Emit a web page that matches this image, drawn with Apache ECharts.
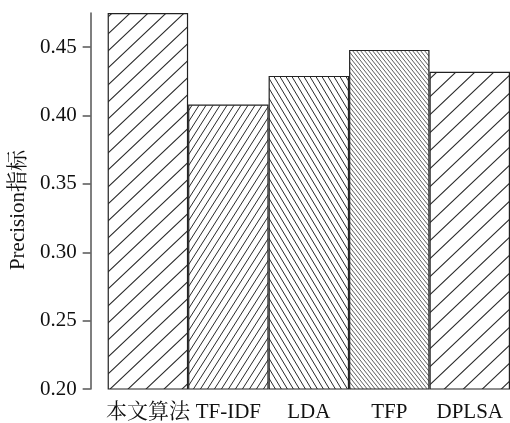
<!DOCTYPE html>
<html>
<head>
<meta charset="utf-8">
<script src="https://cdn.jsdelivr.net/npm/echarts@6/dist/echarts.min.js"></script>
<style>html,body{margin:0;padding:0;background:#fff}#c{width:510px;height:423px}</style>
</head>
<body>
<div id="c"></div>
<script>
var categories = ['本文算法', 'TF-IDF', 'LDA', 'TFP', 'DPLSA'];
var precision = [0.475, 0.408, 0.429, 0.448, 0.432];
var yTicks = [0.20, 0.25, 0.30, 0.35, 0.40, 0.45];
var yMin = 0.20, yMax = 0.475;

// hatch styles: [direction, tileW, tileH, lineWidth]
var hatchSpecs = [['/', 18, 17, 1.1], ['/', 7, 11, 1.0], ['\\', 6, 10, 1.0], ['\\', 4, 5, 0.75], ['/', 19, 18, 1.1]];

function makeHatch(dir, w, h, lw) {
  var cv = document.createElement('canvas');
  cv.width = w; cv.height = h;
  var ctx = cv.getContext('2d');
  ctx.fillStyle = '#fff';
  ctx.fillRect(0, 0, w, h);
  ctx.strokeStyle = '#2a2a2a';
  ctx.lineWidth = lw;
  ctx.beginPath();
  for (var k = -1; k <= 2; k++) {
    if (dir === '/') {
      ctx.moveTo((k - 1.5) * w, 1.5 * h);
      ctx.lineTo((k + 1.5) * w, -1.5 * h);
    } else {
      ctx.moveTo((k - 1.5) * w, -1.5 * h);
      ctx.lineTo((k + 1.5) * w, 1.5 * h);
    }
  }
  ctx.stroke();
  return { image: cv, repeat: 'repeat' };
}

var font = "'Liberation Serif', 'Noto Serif CJK SC', 'Noto Sans CJK SC', serif";
var chart = echarts.init(document.getElementById('c'), null, { renderer: 'canvas' });
chart.setOption({
  animation: false,
  backgroundColor: '#fff',
  grid: { left: 107, right: 0, top: 13, bottom: 32, containLabel: false },
  xAxis: {
    type: 'category',
    data: categories,
    axisLine: { show: false },
    axisTick: { show: false },
    axisLabel: { fontSize: 21, fontFamily: font, color: '#111', margin: 13, interval: 0 }
  },
  yAxis: {
    type: 'value',
    min: yMin, max: yMax,
    offset: 17,
    name: 'Precision指标',
    nameLocation: 'middle',
    nameGap: 56,
    nameTextStyle: { fontSize: 21, fontFamily: font, color: '#111', padding: [0, 18, 0, 0] },
    axisLine: { show: true, lineStyle: { color: '#555', width: 1.5 } },
    axisTick: { show: true, length: 8, customValues: yTicks, lineStyle: { color: '#555', width: 1.5 } },
    axisLabel: {
      customValues: yTicks, fontSize: 21, fontFamily: font, color: '#111', margin: 14,
      formatter: function (v) { return v.toFixed(2); }
    },
    splitLine: { show: false }
  },
  series: [{
    type: 'bar',
    barCategoryGap: '0%',
    data: precision.map(function (v, i) {
      var s = hatchSpecs[i];
      return { value: v, itemStyle: { color: makeHatch(s[0], s[1], s[2], s[3]), borderColor: '#222', borderWidth: 1.2 } };
    })
  }]
});
</script>
</body>
</html>
